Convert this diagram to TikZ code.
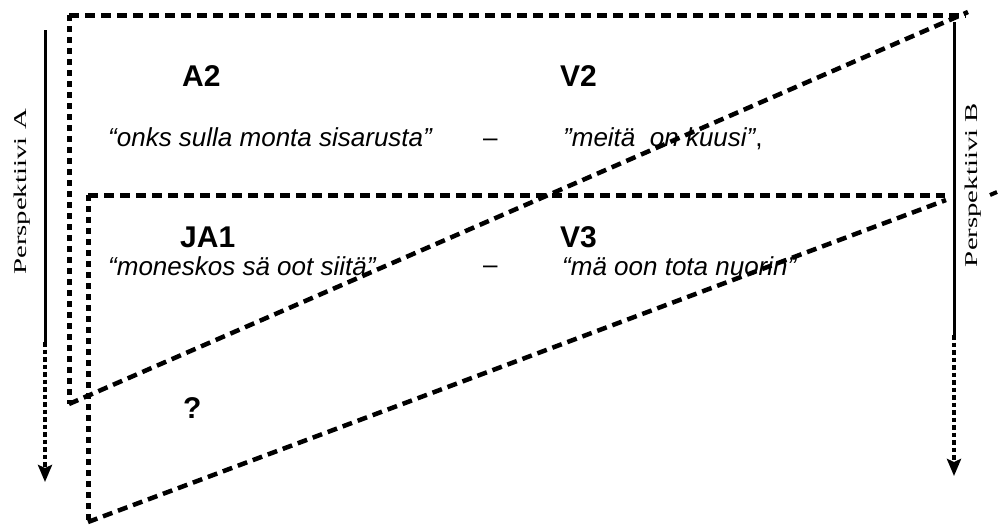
\documentclass[tikz,border=0pt]{standalone}
\usepackage{fontspec}
\usepackage{graphicx}
\setmainfont{Liberation Sans}
\newfontfamily\seriffont{Liberation Serif}
\usetikzlibrary{arrows.meta}
\begin{document}
\begin{tikzpicture}[x=1pt,y=-1pt,
 hdash/.style={line width=5pt, dash pattern=on 10pt off 6pt},
 vdash/.style={line width=5pt, dash pattern=on 6pt off 5pt},
 ddash/.style={line width=4.5pt, dash pattern=on 10pt off 6pt},
 axisline/.style={line width=3pt},
 axisdot/.style={line width=3.5pt, dash pattern=on 4.5pt off 3pt, -{Stealth[width=14pt,length=17pt,inset=3pt]}},
 lbl/.style={inner sep=0pt, anchor=base west, font=\fontsize{30}{36}\selectfont\bfseries},
 quot/.style={inner sep=0pt, anchor=base west, font=\fontsize{26}{31}\selectfont\itshape},
 persp/.style={inner sep=0pt, anchor=base, rotate=90, font=\fontsize{18}{22}\selectfont\seriffont}]
\useasboundingbox (0,0) rectangle (1005,525);

% upper triangle
\coordinate (t1a) at (69,15);
\coordinate (t1b) at (966,15);
\coordinate (t1c) at (69,404);
\coordinate (t1d) at (968,12);
\draw[hdash] (t1a) -- (t1b);
\draw[vdash] (t1a) -- (t1c);
\draw[ddash] (t1c) -- (t1d);

% lower triangle
\coordinate (t2a) at (88,195);
\coordinate (t2b) at (945,195);
\coordinate (t2c) at (88,522);
\coordinate (t2d) at (946,200);
\draw[hdash] (t2a) -- (t2b);
\draw[vdash] (t2a) -- (t2c);
\draw[ddash] (t2c) -- (t2d);

% perspective axes
\coordinate (aTop) at (45,30);
\coordinate (aMid) at (45,342);
\coordinate (aEnd) at (45,482);
\draw[axisline] (aTop) -- (aMid);
\draw[axisdot] (aMid) -- (aEnd);

\coordinate (bTop) at (954,22);
\coordinate (bMid) at (954,335);
\coordinate (bEnd) at (954,476);
\draw[axisline] (bTop) -- (bMid);
\draw[axisdot] (bMid) -- (bEnd);

\coordinate (m1) at (990,195);
\coordinate (m2) at (997,192);
\draw[line width=4pt] (m1) -- (m2);

\node[persp] (pA) at (27,192) {\scalebox{1.6}[1]{Perspektiivi A}};
\node[persp] (pB) at (977,185) {\scalebox{1.6}[1]{Perspektiivi B}};

% texts
\node[lbl] (A2) at (182,86) {A2};
\node[lbl] (V2) at (560,86) {V2};
\node[quot] (q1) at (108,146) {“onks sulla monta sisarusta”};
\node[quot] (d1) at (483,146) {\upshape –};
\node[quot] (q2) at (563,146) {”meitä\ \ on kuusi”{\upshape ,}};

\node[lbl] (JA1) at (180,247) {JA1};
\node[lbl] (V3) at (560,247) {V3};
\node[quot] (q3) at (108,275) {“moneskos sä oot siitä”};
\node[quot] (d2) at (483,273) {\upshape –};
\node[quot] (q4) at (562,275) {“mä oon tota nuorin”};

\node[lbl] (qm) at (183,418) {?};
\end{tikzpicture}
\end{document}
